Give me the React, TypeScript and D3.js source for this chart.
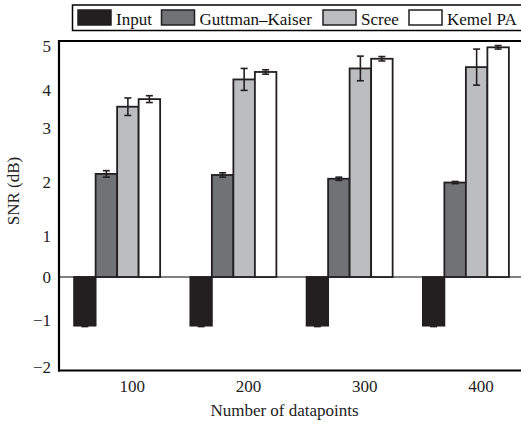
import React from "react";
import * as d3 from "d3";

const categories = ["100", "200", "300", "400"];
const series = ["Input", "Guttman–Kaiser", "Scree", "Kemel PA"];
const inputVals = [-1.12, -1.12, -1.12, -1.12];
const inputErr = [0.02, 0.02, 0.02, 0.02];
const gkVals = [2.15, 2.13, 2.06, 1.99];
const gkErr = [0.06, 0.04, 0.03, 0.02];
const screeVals = [3.56, 4.24, 4.49, 4.52];
const screeErr = [0.23, 0.25, 0.28, 0.41];
const kpaVals = [3.76, 4.41, 4.71, 4.97];
const kpaErr = [0.09, 0.05, 0.05, 0.04];
const yTicks = [-2, -1, 0, 1, 2, 3, 4, 5];
const colors = ["#231f20", "#717275", "#bbbdbf", "#ffffff"];

const W = 521;
const H = 424;
const left = 59;
const top = 41;
const bottom = 370.5;
const right = 524;

export default function App() {
  const allVals = [inputVals, gkVals, screeVals, kpaVals];
  const allErr = [inputErr, gkErr, screeErr, kpaErr];
  const x = d3.scaleBand().domain(categories).range([left, right]).paddingInner(0.26).paddingOuter(0.13);
  const xs = d3.scaleBand().domain(series).range([0, x.bandwidth()]);
  // axis as printed: tick labels are not evenly spaced, so the scale follows them
  const y = d3.scaleLinear().domain(yTicks).range([367, 320, 277, 236, 182, 128, 90, 46]);
  const ink = "#231f20";

  const legendX = [78, 161.5, 323, 409];
  return (
    <svg width={W} height={H} style={{ position: "absolute", left: 0, top: 0, background: "#fff" }}
      fontFamily="'Liberation Serif', 'Times New Roman', serif" fontSize={17}>
      {/* legend */}
      <rect x={72.5} y={5} width={470} height={25.5} fill="#fff" stroke="#000" strokeWidth={1.5} />
      {series.map((s, i) => (
        <g key={s}>
          <rect x={legendX[i]} y={10} width={33} height={15} fill={colors[i]} stroke={ink} strokeWidth={1.5} />
          <text x={legendX[i] + 38} y={25} fill="#111">{s}</text>
        </g>
      ))}
      {/* zero line */}
      <line x1={left} x2={W} y1={y(0)} y2={y(0)} stroke="#000" strokeWidth={1} />
      {/* bars */}
      {categories.map((c, ci) => (
        <g key={c}>
          {series.map((s, si) => {
            const v = allVals[si][ci];
            const bx = (x(c) as number) + (xs(s) as number);
            const y0 = y(0);
            const yv = y(v);
            return (
              <rect key={s} x={bx} y={Math.min(y0, yv)} width={xs.bandwidth()} height={Math.abs(yv - y0)}
                fill={colors[si]} stroke={ink} strokeWidth={1.8} />
            );
          })}
          {series.map((s, si) => {
            const v = allVals[si][ci];
            const e = allErr[si][ci];
            const cx = (x(c) as number) + (xs(s) as number) + xs.bandwidth() / 2;
            const y1 = y(v + e);
            const y2 = y(v - e);
            return (
              <g key={s + "e"} stroke={ink} strokeWidth={1.6}>
                <line x1={cx} x2={cx} y1={y1} y2={y2} />
                <line x1={cx - 3.5} x2={cx + 3.5} y1={y1} y2={y1} />
                <line x1={cx - 3.5} x2={cx + 3.5} y1={y2} y2={y2} />
              </g>
            );
          })}
        </g>
      ))}
      {/* axes frame */}
      <line x1={left} x2={left} y1={top - 1} y2={bottom + 1} stroke="#000" strokeWidth={2.2} />
      <line x1={left - 1} x2={W} y1={top} y2={top} stroke="#000" strokeWidth={2.2} />
      <line x1={left - 1} x2={W} y1={bottom} y2={bottom} stroke="#000" strokeWidth={2.2} />
      {/* y tick labels */}
      {yTicks.map((t) => (
        <text key={t} x={51} y={y(t)} dy="0.35em" textAnchor="end" fill="#222">
          {t < 0 ? "−" + Math.abs(t) : String(t)}
        </text>
      ))}
      {/* x tick labels */}
      {categories.map((c) => (
        <text key={c} x={(x(c) as number) + x.bandwidth() / 2 + 15} y={392} textAnchor="middle" fill="#222">
          {c}
        </text>
      ))}
      <text x={284.5} y={416} textAnchor="middle" fill="#222">Number of datapoints</text>
      <text transform={`translate(19,191) rotate(-90)`} textAnchor="middle" fill="#222">SNR (dB)</text>
    </svg>
  );
}
